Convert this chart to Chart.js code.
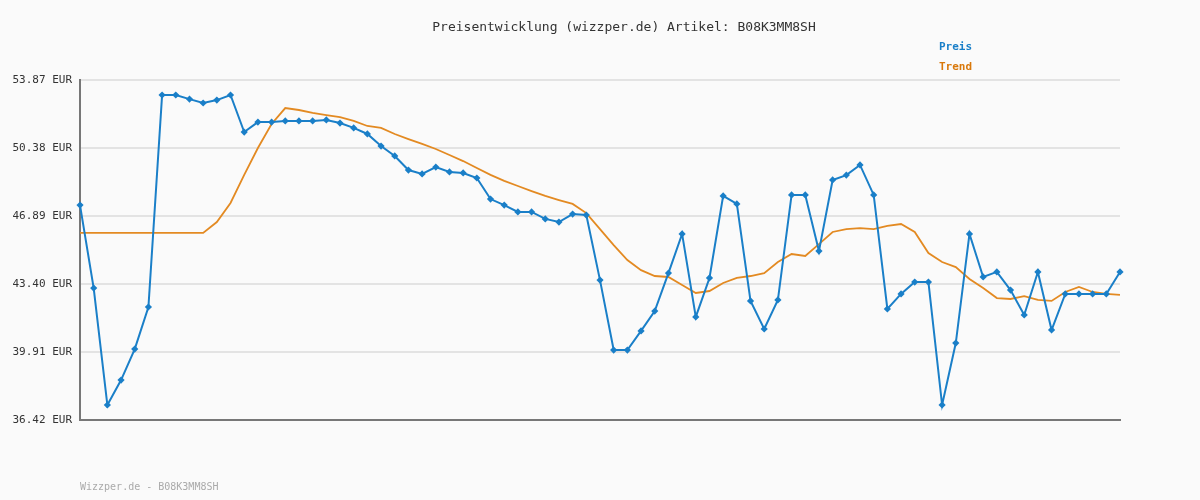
<!DOCTYPE html>
<html><head><meta charset="utf-8">
<script src="https://cdn.jsdelivr.net/npm/chart.js@4"></script>
<style>html,body{margin:0;background:#fafafa}#w{width:1200px;height:500px}</style>
</head><body><div id="w"><canvas id="c"></canvas></div>
<script>
const preis=[47.45,43.19,37.19,38.47,40.06,42.22,53.10,53.10,52.89,52.69,52.84,53.10,51.20,51.71,51.71,51.77,51.77,51.77,51.82,51.66,51.41,51.10,50.48,49.97,49.25,49.05,49.40,49.15,49.10,48.84,47.76,47.45,47.10,47.10,46.74,46.58,46.99,46.94,43.60,40.01,40.01,40.99,42.01,43.96,45.97,41.71,43.71,47.92,47.51,42.53,41.09,42.58,47.97,47.97,45.09,48.74,48.99,49.51,47.97,42.12,42.89,43.50,43.50,37.19,40.37,45.97,43.76,44.02,43.09,41.81,44.02,41.04,42.89,42.89,42.89,42.89,44.02];
const trend=[46.02,46.02,46.02,46.02,46.02,46.02,46.02,46.02,46.02,46.02,46.58,47.56,49.0,50.38,51.61,52.43,52.33,52.18,52.07,51.97,51.77,51.51,51.41,51.10,50.84,50.59,50.33,50.02,49.71,49.35,49.0,48.69,48.43,48.17,47.92,47.71,47.51,47.04,46.22,45.40,44.63,44.11,43.81,43.76,43.35,42.94,43.04,43.45,43.71,43.81,43.96,44.53,44.94,44.84,45.45,46.07,46.22,46.27,46.22,46.38,46.48,46.07,44.99,44.53,44.27,43.66,43.19,42.68,42.63,42.78,42.58,42.53,42.99,43.25,42.99,42.89,42.84];
const labels=preis.map((_,i)=>String(i+1));
const yMin=36.42,yMax=53.87,yStep=3.49;
const F='"DejaVu Sans Mono", monospace';
const deco={id:'deco',afterDraw(ch){const c=ch.ctx;c.save();c.textBaseline='middle';
c.font='13px '+F;c.fillStyle='#333';c.textAlign='center';c.fillText('Preisentwicklung (wizzper.de) Artikel: B08K3MM8SH',624,28);
c.font='bold 11px '+F;c.textAlign='left';c.fillStyle='#1a7fc8';c.fillText('Preis',939,47);c.fillStyle='#d9780a';c.fillText('Trend',939,67);
c.font='10px '+F;c.fillStyle='#aaa';c.fillText('Wizzper.de - B08K3MM8SH',80,487);c.restore();}};
new Chart(document.getElementById('c'),{type:'line',data:{labels,datasets:[
{label:'Preis',data:preis,borderColor:'#1a7fc8',backgroundColor:'#1a7fc8',borderWidth:2,pointStyle:'rectRot',pointRadius:2.2,tension:0},
{label:'Trend',data:trend,borderColor:'#e38a22',borderWidth:1.8,pointRadius:0,tension:0}]},
options:{animation:false,responsive:true,maintainAspectRatio:false,layout:{padding:{top:80,right:80,bottom:80,left:0}},
plugins:{legend:{display:false},tooltip:{enabled:false}},
scales:{x:{offset:false,grid:{display:false},ticks:{display:false},border:{color:'#777',width:2},afterFit:s=>{s.height=0}},
y:{min:yMin,max:yMax,afterBuildTicks:s=>{s.ticks=[];for(let v=yMin;v<=yMax+0.001;v+=yStep)s.ticks.push({value:+v.toFixed(2)});},
afterFit:s=>{s.width=80},grid:{color:'#e3e3e3',lineWidth:2,drawTicks:false},border:{color:'#777',width:2},
ticks:{padding:8,color:'#333',font:{family:F,size:11},callback:v=>v.toFixed(2)+' EUR'}}}},plugins:[deco]});
</script></body></html>
